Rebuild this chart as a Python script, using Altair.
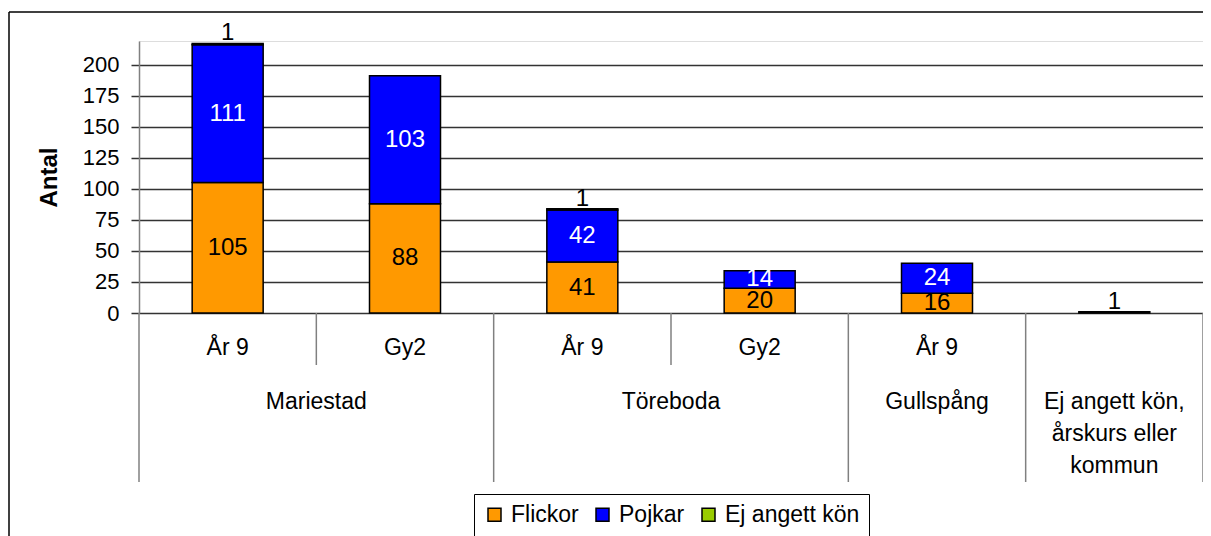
import altair as alt
import pandas as pd

# ---- data ----
cols = [0, 1, 2, 3, 4, 5]
sub_labels = ["År 9", "Gy2", "År 9", "Gy2", "År 9", ""]
group_names = ["Mariestad", "Töreboda", "Gullspång", "Ej angett kön,\nårskurs eller\nkommun"]
group_pos = [0.5, 2.5, 4.0, 5.0]
flickor = [105, 88, 41, 20, 16, 0]
pojkar = [111, 103, 42, 14, 24, 0]
ej_angett = [1, 0, 1, 0, 0, 1]
series = ["Flickor", "Pojkar", "Ej angett kön"]
colors = ["#FF9900", "#0000FF", "#99CC00"]
label_colors = ["black", "white", "black"]
y_ticks = [0, 25, 50, 75, 100, 125, 150, 175, 200]
minor_sep = [0.5, 2.5]
major_sep = [-0.5, 1.5, 3.5, 4.5, 5.5]

FONT = "Liberation Sans"
W, H = 1064, 272

rows = []
for s_i, (name, vals) in enumerate(zip(series, [flickor, pojkar, ej_angett])):
    for c, v in zip(cols, vals):
        if v > 0:
            rows.append({"col": c, "series": name, "value": v, "ord": s_i,
                         "lab": label_colors[s_i]})
df = pd.DataFrame(rows)

xscale = alt.Scale(domain=[-0.5, 5.5], nice=False, zero=False, padding=0)
yscale = alt.Scale(domain=[0, 219], nice=False, padding=0)


def y_axis():
    return alt.Axis(values=y_ticks, grid=True, gridColor="#333333", gridWidth=1.3,
                    tickColor="#333333", tickWidth=1.5, tickSize=8,
                    domainColor="#808080", domainWidth=1.5, labelOverlap=False,
                    labelFontSize=22, labelColor="black", labelPadding=12, labelFont=FONT,
                    titleFontSize=24, titleFontWeight="bold", titleFont=FONT,
                    titleColor="black", titlePadding=21)


one = pd.DataFrame({"k": [0]})

frame_top = alt.Chart(one).mark_rule(color="black", strokeWidth=1.5).encode(
    x=alt.value(-130), x2=alt.value(W), y=alt.value(-29)
)
frame_left = alt.Chart(one).mark_rule(color="black", strokeWidth=1.5).encode(
    x=alt.value(-130), y=alt.value(-29), y2=alt.value(H + 260)
)

minor = alt.Chart(pd.DataFrame({"p": minor_sep})).mark_rule(color="#808080", strokeWidth=1.5).encode(
    x=alt.X("p:Q", scale=xscale, axis=None), y=alt.value(H), y2=alt.value(H + 52)
)
major = alt.Chart(pd.DataFrame({"p": major_sep})).mark_rule(color="#808080", strokeWidth=1.5).encode(
    x=alt.X("p:Q", scale=xscale, axis=None), y=alt.value(H), y2=alt.value(H + 169)
)

bars = alt.Chart(df).mark_bar(size=71, stroke="black", strokeWidth=1.5).encode(
    x=alt.X("col:Q", scale=xscale, axis=None),
    y=alt.Y("value:Q", stack="zero", scale=yscale, title="Antal", axis=y_axis()),
    color=alt.Color("series:N", scale=alt.Scale(domain=series, range=colors),
                    legend=alt.Legend(title=None, orient="none", legendX=335, legendY=453,
                                      direction="horizontal", strokeColor="black",
                                      fillColor="white", padding=9,
                                      symbolType="square", symbolSize=169,
                                      symbolStrokeColor="black", symbolStrokeWidth=1.5,
                                      symbolOpacity=1, labelFontSize=23, labelFont=FONT,
                                      labelColor="black", labelOffset=5, columnPadding=12)),
    order=alt.Order("ord:Q"),
)

stacked = alt.Chart(df).transform_stack(
    stack="value", groupby=["col"], sort=[alt.SortField("ord")], as_=["y0", "y1"]
).transform_calculate(mid="(datum.y0 + datum.y1) / 2")

center_labels = stacked.transform_filter("datum.ord < 2").mark_text(
    font=FONT, fontSize=24, baseline="middle", align="center"
).encode(
    x=alt.X("col:Q", scale=xscale, axis=None),
    y=alt.Y("mid:Q", scale=yscale, title="Antal", axis=y_axis()),
    text="value:Q",
    color=alt.Color("lab:N", scale=None),
)

top_labels = stacked.transform_filter("datum.ord == 2").mark_text(
    font=FONT, fontSize=24, baseline="alphabetic", align="center", dy=-3, color="black"
).encode(
    x=alt.X("col:Q", scale=xscale, axis=None),
    y=alt.Y("y1:Q", scale=yscale, title="Antal", axis=y_axis()),
    text="value:Q",
)

sub_text = alt.Chart(pd.DataFrame({"col": cols, "t": sub_labels})).mark_text(
    font=FONT, fontSize=23, baseline="middle", align="center", color="black"
).encode(
    x=alt.X("col:Q", scale=xscale, axis=None), y=alt.value(H + 35), text="t:N"
)

group_text = alt.Chart(pd.DataFrame({"p": group_pos, "t": group_names})).mark_text(
    font=FONT, fontSize=23, baseline="top", align="center", color="black",
    lineBreak="\n", lineHeight=32
).encode(
    x=alt.X("p:Q", scale=xscale, axis=None), y=alt.value(H + 78), text="t:N"
)

chart = alt.layer(
    frame_top, frame_left, minor, major, bars, center_labels, top_labels, sub_text, group_text
).properties(
    width=W, height=H,
    autosize=alt.AutoSizeParams(type="none"),
    padding={"left": 131, "top": 33, "right": 0, "bottom": 223},
).configure_view(
    stroke="#999999", strokeWidth=1.5
).configure(font=FONT)

chart.save("out.html", embed_options={"renderer": "svg", "actions": False})
